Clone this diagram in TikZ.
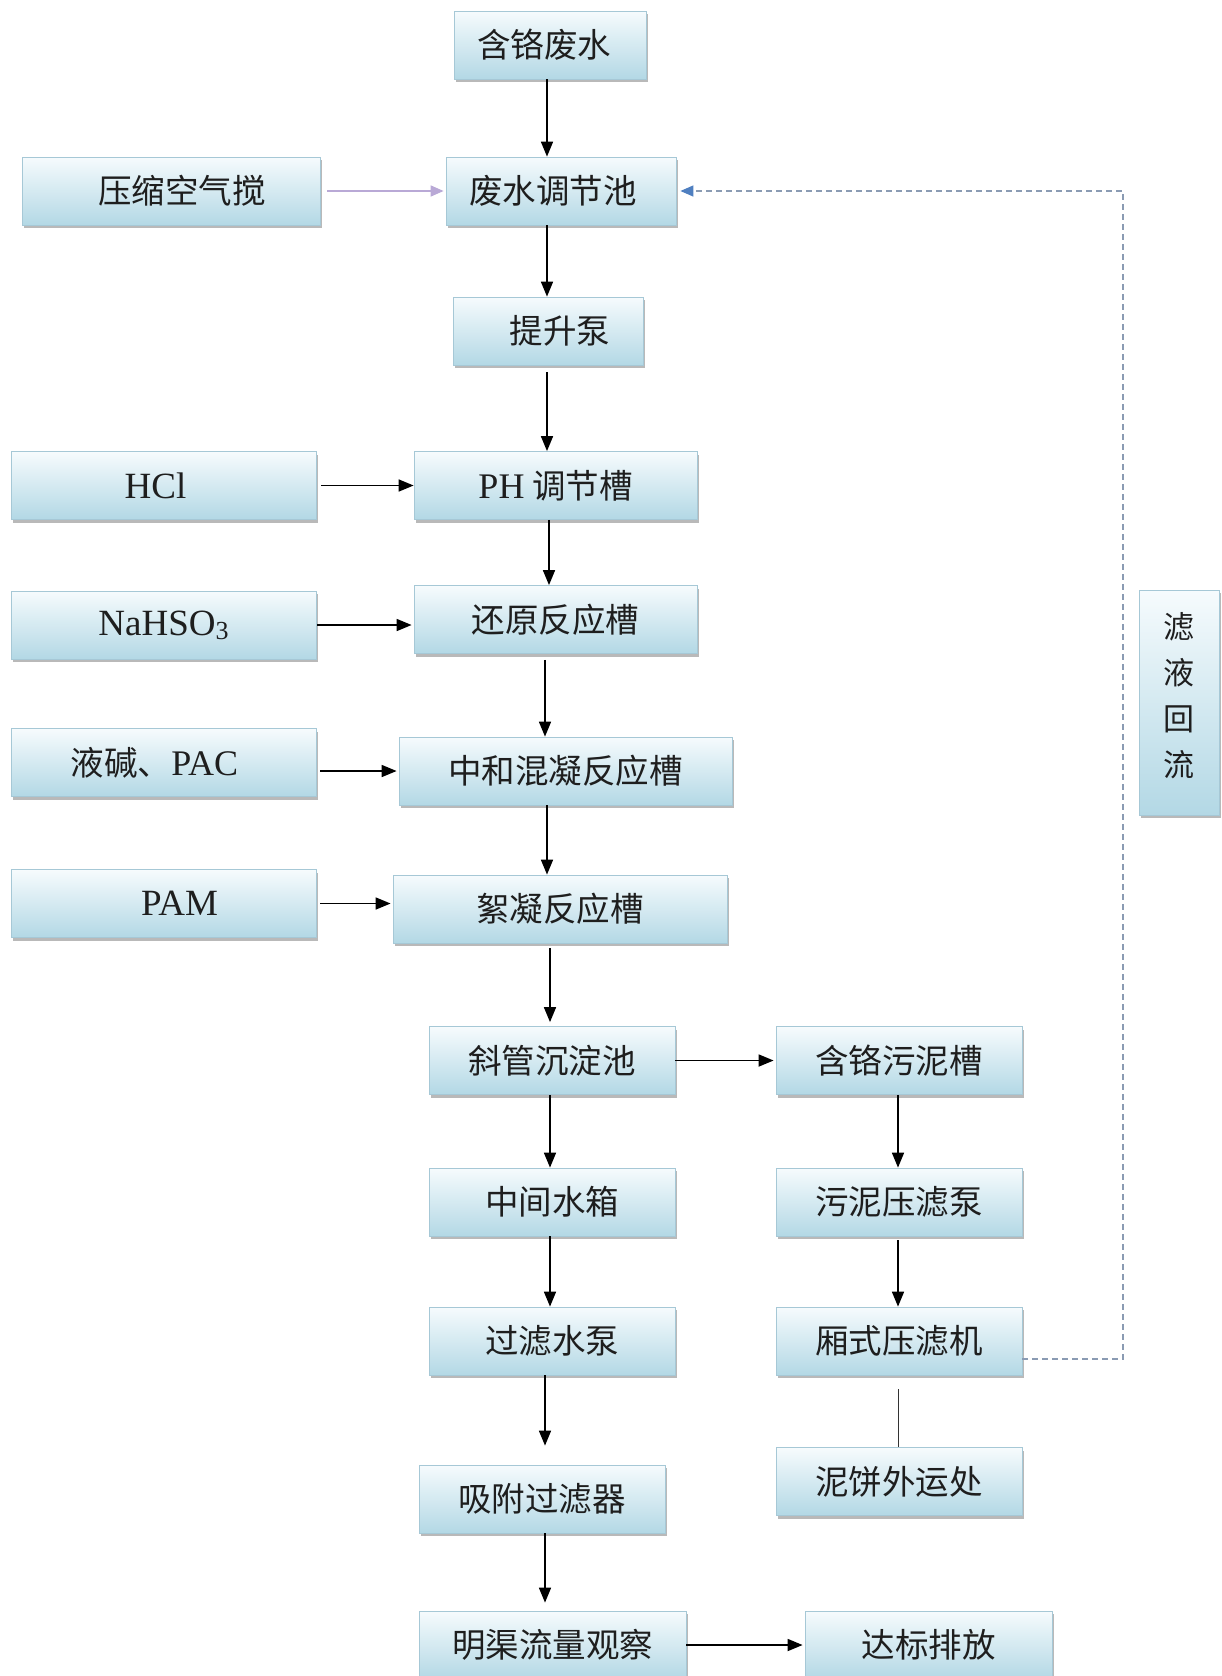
\documentclass[tikz,border=0pt]{standalone}
\usepackage{fontspec}
\setmainfont{Liberation Serif}
\newfontfamily\cjk{Noto Sans CJK SC}
\usetikzlibrary{shadows,arrows.meta}
\definecolor{boxtop}{HTML}{F6FBFD}
\definecolor{boxbot}{HTML}{B3D8E5}
\definecolor{boxedge}{HTML}{A6C8D6}
\definecolor{txt}{HTML}{1E1E1E}
\definecolor{dashcol}{HTML}{8A9BB3}
\definecolor{tipblue}{HTML}{4F7FC0}
\definecolor{lav}{HTML}{B9A9D6}
\tikzset{
  pbox/.style={draw=boxedge, line width=0.8pt, top color=boxtop, bottom color=boxbot,
    drop shadow={shadow xshift=2pt, shadow yshift=-3pt, fill=black!50, opacity=0.55},
    minimum height=68pt, inner sep=0pt, text=txt,
    font=\fontsize{33.5}{36}\selectfont\cjk},
  lat/.style={font=\fontsize{37}{40}\selectfont\rmfamily},
  arr/.style={line width=1.7pt, draw=black, -{Triangle[length=15pt,width=12pt]}},
  thinline/.style={line width=1pt, draw=black!80},
  lavarr/.style={line width=1.5pt, draw=lav, -{Triangle[length=13pt,width=11pt,color=lav]}},
  dashline/.style={line width=1.3pt, draw=dashcol, dash pattern=on 6pt off 4pt,
    -{Triangle[length=13pt,width=11pt,color=tipblue]}},
}
\begin{document}
\begin{tikzpicture}[x=1pt,y=-1pt]
\useasboundingbox (0,0) rectangle (1221,1676);

% main treatment line
\node[pbox, minimum width=192pt] (hg) at (550,45) {含铬废水\hspace*{12pt}};
\node[pbox, minimum width=230pt] (tj) at (561,191) {废水调节池\hspace*{16pt}};
\node[pbox, minimum width=190pt] (ts) at (548,331) {\hspace*{24pt}提升泵};
\node[pbox, minimum width=283pt] (ph) at (555.5,485.5) {{\fontsize{36}{40}\selectfont\rmfamily PH} 调节槽};
\node[pbox, minimum width=283pt] (hy) at (555.5,619.5) {还原反应槽};
\node[pbox, minimum width=333pt] (zh) at (565.5,771) {中和混凝反应槽};
\node[pbox, minimum width=334pt] (xn) at (560,909) {絮凝反应槽};
\node[pbox, minimum width=246pt] (xg) at (552,1060.5) {斜管沉淀池};
\node[pbox, minimum width=246pt] (zj) at (552,1202) {中间水箱};
\node[pbox, minimum width=246pt] (gl) at (552,1341) {过滤水泵};
\node[pbox, minimum width=246pt] (xf) at (542,1499) {吸附过滤器};
\node[pbox, minimum width=267pt] (mq) at (552.5,1645) {明渠流量观察};

% sludge line
\node[pbox, minimum width=246pt] (wn) at (899,1060.5) {含铬污泥槽};
\node[pbox, minimum width=246pt] (yb) at (899,1202) {污泥压滤泵};
\node[pbox, minimum width=246pt] (xs) at (899,1341) {厢式压滤机};
\node[pbox, minimum width=246pt] (nb) at (899,1481.5) {泥饼外运处};
\node[pbox, minimum width=247pt] (db) at (928.5,1645) {达标排放};

% dosing inputs
\node[pbox, minimum width=298pt] (ys) at (171,191) {\hspace*{22pt}压缩空气搅};
\node[pbox, minimum width=305pt, lat] (hcl) at (163.5,485.5) {HCl\hspace*{16pt}};
\node[pbox, minimum width=305pt, lat] (na) at (163.5,625) {NaHSO{\fontsize{26}{28}\selectfont\raisebox{-4pt}{3}}};
\node[pbox, minimum width=305pt] (yj) at (163.5,762.5) {液碱、{\fontsize{36}{40}\selectfont\rmfamily PAC}\hspace*{18pt}};
\node[pbox, minimum width=305pt, lat] (pam) at (163.5,903.5) {\hspace*{32pt}PAM};

% filtrate return label
\node[pbox, minimum width=80pt, minimum height=225pt, align=center,
  font=\fontsize{31}{46}\selectfont\cjk] (lh) at (1179,702.5)
  {滤\\液\\回\\流\rule[-16pt]{0pt}{0pt}};

% column guides
\coordinate (c1) at (547,0);
\coordinate (c2) at (549,0);
\coordinate (c3) at (545,0);
\coordinate (c4) at (550,0);
\coordinate (c5) at (898,0);
\coordinate (rx) at (1123,0);

% vertical flow
\draw[arr] (hg.south -| c1) -- (tj.north -| c1);
\draw[arr] (tj.south -| c1) -- (ts.north -| c1);
\draw[arr] ([yshift=-7pt]ts.south -| c1) -- (ph.north -| c1);
\draw[arr] (ph.south -| c2) -- (hy.north -| c2);
\draw[arr] ([yshift=-6pt]hy.south -| c3) -- (zh.north -| c3);
\draw[arr] (zh.south -| c1) -- (xn.north -| c1);
\draw[arr] ([yshift=-5pt]xn.south -| c4) -- ([yshift=4pt]xg.north -| c4);
\draw[arr] (xg.south -| c4) -- (zj.north -| c4);
\draw[arr] (zj.south -| c4) -- (gl.north -| c4);
\draw[arr] (gl.south -| c3) -- ([yshift=19pt]xf.north -| c3);
\draw[arr] (xf.south -| c3) -- ([yshift=8pt]mq.north -| c3);
\draw[arr] (wn.south -| c5) -- (yb.north -| c5);
\draw[arr] ([yshift=-4pt]yb.south -| c5) -- (xs.north -| c5);
\draw[thinline] ([yshift=-14pt]xs.south -| c5) -- (nb.north -| c5);

% horizontal flow
\draw[lavarr] ([xshift=7pt]ys.east) -- ([xshift=-2pt]tj.west);
\draw[arr] ([xshift=5pt]hcl.east) -- (ph.west);
\draw[arr] ([xshift=1pt]na.east) -- ([xshift=-2pt]na.east -| hy.west);
\draw[arr] ([xshift=4pt]yj.east |- zh.west) -- ([xshift=-2pt]zh.west);
\draw[arr] ([xshift=4pt]pam.east) -- ([xshift=-2pt]pam.east -| xn.west);
\draw[arr] (xg.east) -- ([xshift=-2pt]wn.west);
\draw[arr] (mq.east) -- ([xshift=-2pt]db.west);

% filtrate return
\draw[dashline] ([yshift=-18pt]xs.east) -- ([yshift=-18pt]xs.east -| rx)
  -- (rx |- tj.east) -- ([xshift=4pt]tj.east);
\end{tikzpicture}
\end{document}
